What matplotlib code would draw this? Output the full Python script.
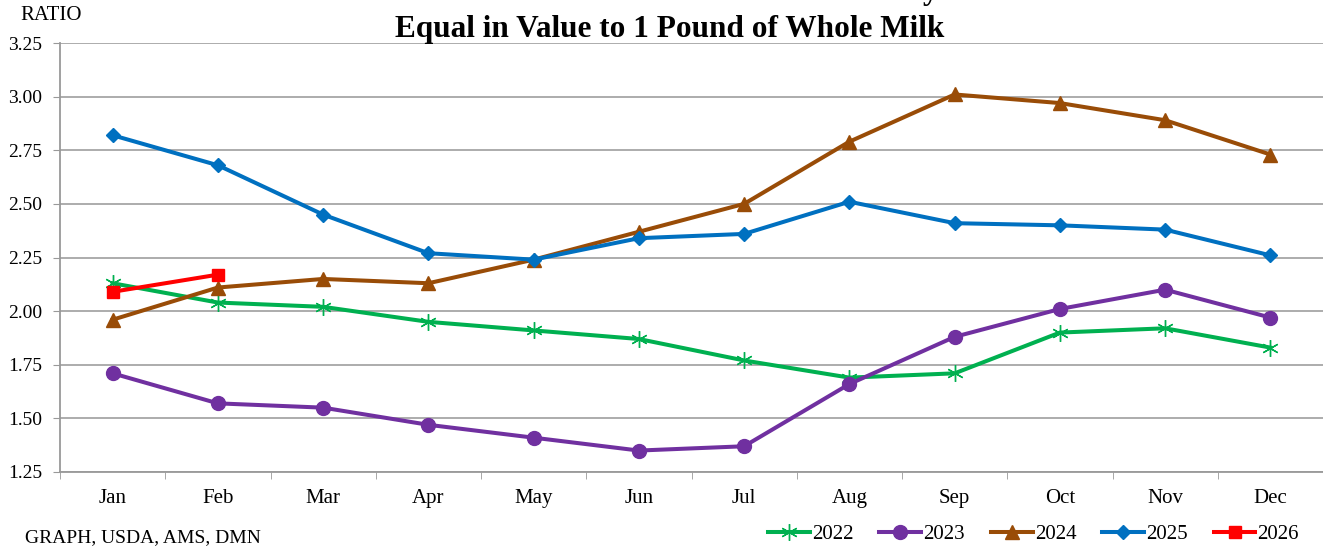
import matplotlib
matplotlib.use("Agg")
import matplotlib.pyplot as plt
from matplotlib.ticker import MultipleLocator, FixedLocator

plt.rcParams['font.family'] = ['Liberation Serif', 'DejaVu Serif']

# données
months = ['Jan', 'Feb', 'Mar', 'Apr', 'May', 'Jun',
          'Jul', 'Aug', 'Sep', 'Oct', 'Nov', 'Dec']
r2022 = [2.13, 2.04, 2.02, 1.95, 1.91, 1.87, 1.77, 1.69, 1.71, 1.90, 1.92, 1.83]
r2023 = [1.71, 1.57, 1.55, 1.47, 1.41, 1.35, 1.37, 1.66, 1.88, 2.01, 2.10, 1.97]
r2024 = [1.96, 2.11, 2.15, 2.13, 2.24, 2.37, 2.50, 2.79, 3.01, 2.97, 2.89, 2.73]
r2025 = [2.82, 2.68, 2.45, 2.27, 2.24, 2.34, 2.36, 2.51, 2.41, 2.40, 2.38, 2.26]
r2026 = [2.09, 2.17]

W, H = 1323, 547
fig = plt.figure(figsize=(W / 100, H / 100), dpi=100)
ax = fig.add_axes([60 / W, (H - 472) / H, (W - 60) / W, (472 - 43) / H])

x = list(range(len(months)))
lw = 2.9
ax.plot(x, r2022, color='#00B050', lw=lw, marker=(6, 2, 0), ms=12, mew=1.0, label='2022', zorder=3)
ax.plot(x, r2023, color='#7030A0', lw=lw, marker='o', ms=10, label='2023', zorder=3)
ax.plot(x, r2024, color='#994C07', lw=lw, marker='^', ms=10, label='2024', zorder=3)
ax.plot(x, r2025, color='#0070C0', lw=lw, marker='D', ms=7, label='2025', zorder=3)
ax.plot(x[:len(r2026)], r2026, color='#FF0000', lw=lw, marker='s', ms=9, label='2026', zorder=4)

ax.set_xlim(-0.5, 11.5)
ax.set_ylim(1.25, 3.25)
ax.yaxis.set_major_locator(MultipleLocator(0.25))
ax.yaxis.set_major_formatter(matplotlib.ticker.FormatStrFormatter('%.2f'))
ax.set_xticks(x)
ax.set_xticklabels(months)
ax.xaxis.set_minor_locator(FixedLocator([i + 0.5 for i in range(-1, 12)]))
ax.tick_params(axis='x', which='major', length=0, pad=12, labelsize=15)
ax.tick_params(axis='x', which='minor', length=5, color='#999999', direction='out')
ax.tick_params(axis='y', length=5, color='#999999', pad=8, labelsize=14)

ax.grid(axis='y', color='#A6A6A6', lw=1.3)
ax.set_axisbelow(True)
for s in ['top', 'right']:
    ax.spines[s].set_visible(False)
for s in ['left', 'bottom']:
    ax.spines[s].set_color('#999999')
    ax.spines[s].set_linewidth(1.3)

# titre (première ligne coupée en haut de l'image, comme dans l'original)
fig.text(938 / W, 1 + 1 / H, 'Pounds of 16% Mixed Dairy', ha='right', va='baseline',
         fontsize=22.5, fontweight='bold')
fig.text(670 / W, 1 - 37 / H, 'Equal in Value to 1 Pound of Whole Milk', ha='center',
         va='baseline', fontsize=22.5, fontweight='bold')
fig.text(20 / W, 1 - 15 / H, 'RATIO', ha='left', va='center', fontsize=15)
fig.text(25 / W, 1 - 538 / H, 'GRAPH, USDA, AMS, DMN', ha='left', va='center', fontsize=14)

fig.legend(loc='center right', bbox_to_anchor=(1299 / W, 1 - 534 / H), ncol=5, frameon=False,
           fontsize=15, handlelength=2.0, handletextpad=0.1, columnspacing=1.25,
           borderaxespad=0, borderpad=0)

fig.savefig('out.png', dpi=100)
